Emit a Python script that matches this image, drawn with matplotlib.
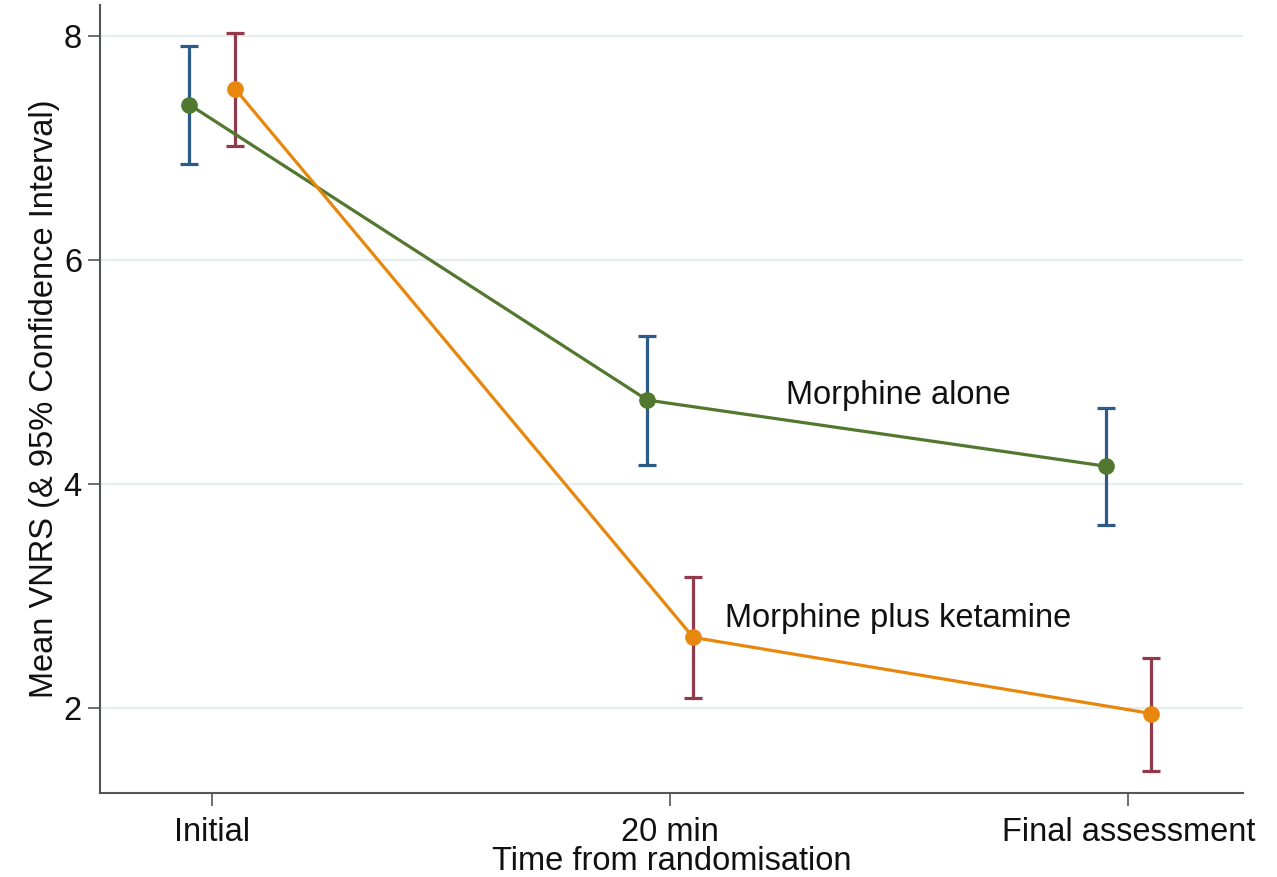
import matplotlib
matplotlib.use("Agg")
import matplotlib.pyplot as plt
import numpy as np

plt.rcParams['font.family'] = ['Liberation Sans', 'DejaVu Sans']

time_labels = ["Initial", "20 min", "Final assessment"]
alone_mean = [7.39, 4.75, 4.16]
alone_lo = [6.86, 4.17, 3.63]
alone_hi = [7.91, 5.32, 4.68]
keta_mean = [7.53, 2.63, 1.95]
keta_lo = [7.02, 2.09, 1.44]
keta_hi = [8.03, 3.17, 2.45]

green = "#52772e"
orange = "#e8870e"
navy = "#2d5b88"
maroon = "#913a4c"
FS = 23.5

fig = plt.figure(figsize=(12.77, 8.77), dpi=100)
ax = fig.add_axes([100/1277, 84/877, 1143/1277, (793-5)/877])

x = np.arange(len(time_labels))
xa = x - 0.05
xk = x + 0.05

am = np.array(alone_mean); km = np.array(keta_mean)
ax.errorbar(xa, am, yerr=[am - np.array(alone_lo), np.array(alone_hi) - am],
            fmt='none', ecolor=navy, elinewidth=2.3, capsize=6.5, capthick=2.3, zorder=2)
ax.errorbar(xk, km, yerr=[km - np.array(keta_lo), np.array(keta_hi) - km],
            fmt='none', ecolor=maroon, elinewidth=2.3, capsize=6.5, capthick=2.3, zorder=2)
ax.plot(xa, am, '-', color=green, lw=2.3, zorder=3)
ax.plot(xk, km, '-', color=orange, lw=2.3, zorder=3)
ax.plot(xa, am, 'o', color=green, ms=11, zorder=4)
ax.plot(xk, km, 'o', color=orange, ms=11, zorder=4)

ax.text(1.253, 4.79, "Morphine alone", fontsize=FS, va='center', ha='left', color='#111111')
ax.text(1.12, 2.80, "Morphine plus ketamine", fontsize=FS, va='center', ha='left', color='#111111')

ax.set_xlim(-0.245, 2.25)
ax.set_ylim(1.24, 8.28)
ax.set_yticks([2, 4, 6, 8])
ax.set_xticks(x)
ax.set_xticklabels(time_labels)
ax.yaxis.grid(True, color='#e6edf2', lw=1.5)
ax.set_axisbelow(True)
for s in ['top', 'right']:
    ax.spines[s].set_visible(False)
for s in ['left', 'bottom']:
    ax.spines[s].set_color('#555555')
    ax.spines[s].set_linewidth(1.5)
ax.tick_params(axis='both', labelsize=FS, color='#555555', width=1.2, length=9, labelcolor='#111111')
ax.tick_params(axis='x', pad=8)
ax.tick_params(axis='y', pad=4)
ax.set_xlabel("Time from randomisation", fontsize=FS, labelpad=-1, color='#111111')
ax.set_ylabel("Mean VNRS (& 95% Confidence Interval)", fontsize=FS, labelpad=3, color='#111111')

fig.savefig("out.png", dpi=100)
